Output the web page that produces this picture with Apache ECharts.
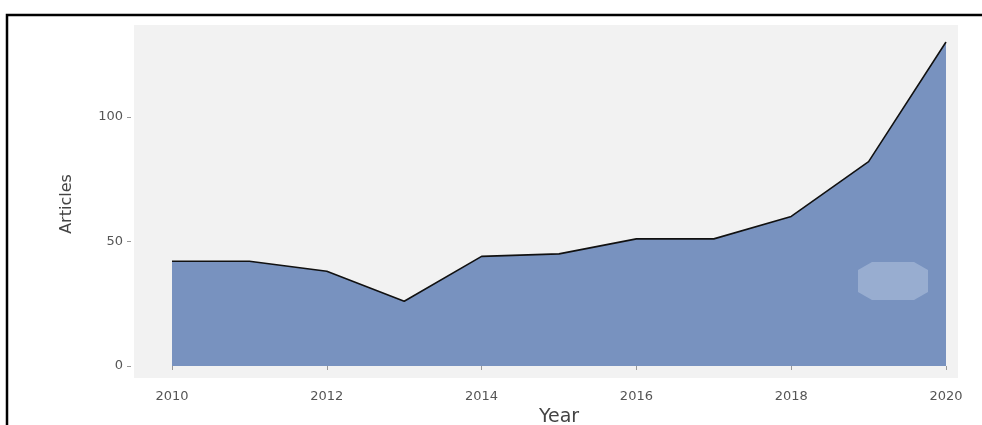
<!DOCTYPE html>
<html>
<head>
<meta charset="utf-8">
<script src="https://cdn.jsdelivr.net/npm/echarts@6/dist/echarts.min.js"></script>
<style>html,body{margin:0;padding:0;background:#fff;}#c{width:982px;height:425px;}</style>
</head>
<body>
<div id="c"></div>
<script>
var years = [2010, 2011, 2012, 2013, 2014, 2015, 2016, 2017, 2018, 2019, 2020];
var articles = [42, 42, 38, 26, 44, 45, 51, 51, 60, 82, 130];
var xTicks = [2010, 2012, 2014, 2016, 2018, 2020];
var yTicks = [0, 50, 100];

var chart = echarts.init(document.getElementById('c'));
var font = 'DejaVu Sans';
chart.setOption({
  animation: false,
  backgroundColor: '#ffffff',
  grid: {left: 172, right: 36, top: 42, bottom: 59, containLabel: false, outerBoundsMode: 'none'},
  xAxis: {
    type: 'value', min: 2010, max: 2020, interval: 2,
    offset: 14,
    name: 'Year', nameLocation: 'middle', nameGap: 28,
    nameTextStyle: {fontFamily: font, fontSize: 19, color: '#444'},
    axisLine: {show: false},
    axisTick: {show: true, length: 4, lineStyle: {color: '#999'}, customValues: xTicks},
    axisLabel: {fontFamily: font, fontSize: 13, color: '#555', margin: 10, customValues: xTicks,
      formatter: function (v) { return String(v); }},
    splitLine: {show: false}
  },
  yAxis: {
    type: 'value', min: 0, max: 130,
    offset: 41,
    name: 'Articles', nameLocation: 'middle', nameGap: 56,
    nameTextStyle: {fontFamily: font, fontSize: 16, color: '#444'},
    axisLine: {show: false},
    axisTick: {show: true, length: 4, lineStyle: {color: '#999'}, customValues: yTicks},
    axisLabel: {fontFamily: font, fontSize: 13, color: '#555', margin: 8, customValues: yTicks},
    splitLine: {show: false}
  },
  graphic: [
    {type: 'rect', z: 0, shape: {x: 134, y: 25, width: 824, height: 353}, style: {fill: '#f2f2f2'}, silent: true},
    {type: 'polygon', z: 100, shape: {points: [[858, 270], [872, 262], [914, 262], [928, 270], [928, 292], [914, 300], [872, 300], [858, 292]]},
      style: {fill: 'rgba(200,215,235,0.4)'}, silent: true},
    {type: 'polyline', z: 100, shape: {points: [[7, 425], [7, 15], [982, 15]]},
      style: {stroke: '#000', lineWidth: 2.5, fill: null}, silent: true}
  ],
  series: [{
    type: 'line',
    data: years.map(function (y, i) { return [y, articles[i]]; }),
    symbol: 'none',
    lineStyle: {color: '#111', width: 1.6},
    areaStyle: {color: '#7892bf', opacity: 1, origin: 0},
    z: 5
  }]
});
</script>
</body>
</html>
